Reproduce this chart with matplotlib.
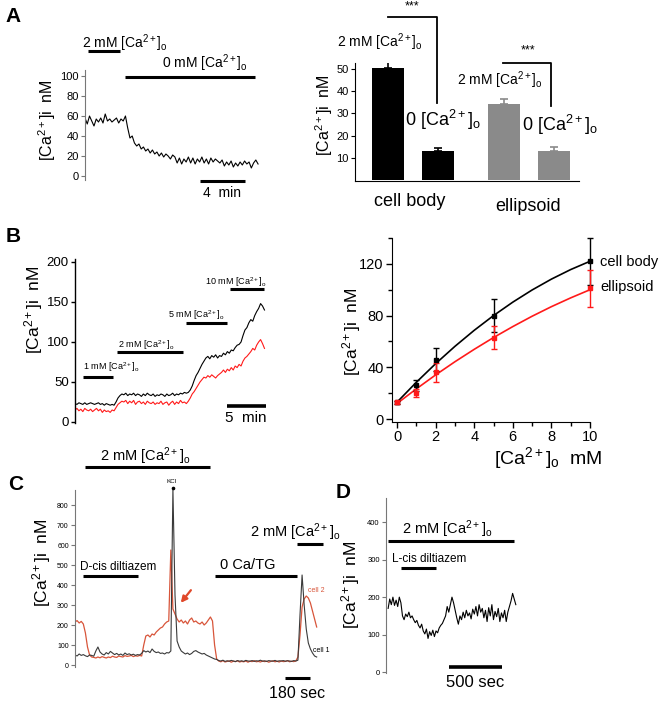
import numpy as np
import matplotlib
matplotlib.use("Agg")
import matplotlib.pyplot as plt
from matplotlib.ticker import MultipleLocator

W, H = 661, 701
plt.rcParams['font.family'] = ['Liberation Sans', 'DejaVu Sans']
plt.rcParams['mathtext.fontset'] = 'custom'
plt.rcParams['mathtext.rm'] = 'Liberation Sans'
plt.rcParams['mathtext.it'] = 'Liberation Sans:italic'
plt.rcParams['mathtext.bf'] = 'Liberation Sans:bold'

CA = r'[Ca$^{2+}$]$_\mathrm{o}$'
CAI = r'[Ca$^{2+}$]i  nM'

# ---- panel A, trace (min, nM), sampled every 0.2 min
a_step = 0.2
a_trace = [58, 52, 60, 55, 50, 57, 54, 58, 53, 62, 55, 57, 54, 56, 58, 53, 57, 55,
           60, 48, 38, 40, 33, 30, 32, 27, 29, 25,
           27, 23, 26, 22, 24, 20, 23, 19, 22, 20,
           17, 21, 19, 13, 18, 12, 17, 14, 19, 13,
           18, 12, 17, 14, 19, 13, 17, 12, 18, 14,
           17, 15, 13, 16, 10, 14, 11, 15, 9, 13,
           10, 14, 11, 15, 12, 14, 8, 13, 16, 12]

# ---- panel A, bars
a_groups = ['cell body', 'ellipsoid']
a_means = [50.5, 13, 34, 13]
a_errs = [2.5, 1.2, 2.5, 2.0]
a_colors = ['black', 'black', '#8a8a8a', '#8a8a8a']

# ---- panel B, traces (min, nM), every 0.25 min
b_step = 0.25
b_black = [23, 22, 24, 23, 22, 24, 22, 23, 24, 23, 22, 23, 24, 22, 23, 21, 23, 22, 21, 22, 21,
           25, 30, 33, 35,
           34, 36, 33, 35, 34, 36, 33, 35, 34, 32, 35, 33, 36, 34, 33, 35, 32, 34, 33, 35,
           34, 32, 35, 33, 34, 36, 33, 35, 34, 36, 35, 37, 36, 37,
           40, 45, 52, 58, 62, 67, 72, 76, 80, 82, 79, 83, 81, 84, 80, 83, 82, 86, 84, 88,
           86, 90, 89, 93, 96, 97, 100, 108, 115, 118, 124, 128, 126, 133, 138, 142, 148, 145, 140]
b_red = [15, 17, 14, 16, 13, 17, 15, 14, 16, 13, 15, 17, 14, 16, 12, 15, 13, 14, 12, 15, 14,
         18, 22, 24, 26,
         25, 27, 23, 26, 24, 27, 22, 25, 26, 23, 25, 22, 26, 24, 23, 25, 22, 24, 23, 26,
         22, 24, 25, 21, 24, 26, 22, 25, 23, 27, 24, 25, 23, 26,
         30, 35, 38, 42, 46, 50, 53, 56, 55, 58, 56, 59, 57, 55, 58, 60, 62, 65, 62, 66,
         64, 68, 65, 70, 68, 72, 70, 76, 80, 82, 85, 88, 92, 90, 96, 100, 103, 98, 92]

# ---- panel B, dose response
b_conc = [0, 1, 2, 5, 10]
b_cell = [13, 26, 46, 80, 122]
b_cell_err = [1, 4, 9, 13, 18]
b_ell = [13, 20, 36, 63, 101]
b_ell_err = [1, 3, 7, 9, 14]
fit_x = [0, 1, 2, 3, 4, 5, 6, 7, 8, 9, 10]
fit_cell = [13, 28.4, 42.8, 56.2, 68.6, 80, 90.4, 99.8, 108.2, 115.6, 122]
fit_ell = [12, 23.3, 34.1, 44.3, 53.9, 63, 71.5, 79.5, 86.9, 93.7, 100]

# ---- panel C, traces (s, nM), every 15 s
c_step = 15
c_cell1 = [50, 45, 55, 48, 52, 46, 42, 50, 48, 44, 70,
           90, 65, 55, 50, 62, 55, 68, 60, 52, 58, 50, 55, 48, 60, 52, 56, 50, 54, 48, 52, 50,
           58, 72, 65, 70, 62, 80, 68, 62, 65, 58, 60, 55, 62, 60, 70, 880, 350, 120, 90,
           70, 62, 55, 60, 52, 58, 68, 72, 65, 60, 55, 58, 50, 45, 40, 35, 30, 28,
           22, 20, 24, 18, 21, 19, 23, 20, 17, 22, 19, 21, 18, 23, 20, 19, 22, 18, 21, 20,
           24, 19, 21, 18, 22, 20, 19, 23, 18, 21, 20, 22, 19, 21, 20, 18, 22, 20,
           24, 250, 450, 300, 180, 110, 80, 60, 45, 40]
c_cell2 = [215, 222, 210, 218, 205, 160, 90, 50, 40,
           38, 35, 40, 36, 42, 38, 35, 40, 37, 44, 40, 38, 45, 42, 40, 47, 43, 45, 48, 42,
           46, 44, 48, 45,
           100, 145, 150, 140, 155, 150, 165, 175, 185, 190, 205, 215, 220, 575, 280, 255,
           230, 215, 225, 210, 220, 205, 225, 235, 215, 220, 210, 205, 215, 200, 210, 225,
           240, 220, 100, 30,
           20, 16, 22, 15, 18, 20, 14, 19, 17, 21, 15, 18, 16, 20, 14, 19, 17, 22, 16, 18,
           15, 20, 17, 19, 14, 18, 21, 16, 19, 15, 20, 17, 18, 22, 16, 19, 17, 20,
           40, 150, 290, 330, 345, 335, 310, 270, 230, 190]

# ---- panel D, trace (s, nM), every 15 s from 20 s
d_start, d_step = 20, 15
d_trace = [170, 195, 180, 200, 178, 192, 175, 200, 185, 150, 140, 155, 148, 160, 145, 150,
           140, 132, 138, 125, 118, 128, 110, 102, 115, 90, 108, 98, 112, 95, 110, 105,
           118, 125, 130, 140, 150, 175, 160, 180, 200, 185, 165, 145, 128, 150, 140, 160,
           145, 165, 150, 158, 142, 168, 155, 175, 150, 180, 160, 170, 145, 165, 135, 172,
           150, 180, 140, 162, 148, 170, 135, 158, 145, 165, 135, 160, 175, 190, 210, 195, 180]

fig = plt.figure(figsize=(W / 100, H / 100), dpi=100)


def box(l, t, r, b):
    return fig.add_axes([l / W, 1 - b / H, (r - l) / W, (b - t) / H])


def ftext(x, y, s, **kw):
    kw.setdefault('ha', 'center')
    kw.setdefault('va', 'center')
    fig.text(x / W, 1 - y / H, s, **kw)


def trace_axes(ax, color='#777777', size=5, lw=0.8):
    for s in ['top', 'right', 'bottom']:
        ax.spines[s].set_visible(False)
    ax.spines['left'].set_color(color)
    ax.spines['left'].set_linewidth(lw)
    ax.tick_params(axis='y', colors=color, labelcolor='black', labelsize=size,
                   length=3, width=lw, pad=1.5)
    ax.set_xticks([])
    ax.patch.set_alpha(0)


def hbar(ax, x0, x1, y, lw=2.2):
    ax.plot([x0, x1], [y, y], color='black', lw=lw, solid_capstyle='butt', clip_on=False)


# ================= A left
ax = box(85, 70, 262, 180)
t = np.arange(len(a_trace)) * a_step
ax.plot(t, a_trace, color='black', lw=0.8)
ax.set_xlim(0, 15.75)
ax.set_ylim(-4, 106)
ax.set_yticks([0, 20, 40, 60, 80, 100])
trace_axes(ax, size=8)
hbar(ax, 0.27, 3.1, 125)
ax.text(-0.27, 133, CA, fontsize=10, ha='left', va='center', clip_on=False)
hbar(ax, 3.56, 15.1, 99.5)
ax.text(10.7, 113, '0 mM ' + CA, fontsize=10, ha='center', va='center')
hbar(ax, 10.2, 14.25, -5)
ax.text(12.2, -17, '4  min', fontsize=10, ha='center', va='center')
ax.texts[0].set_text('2 mM ' + CA)
ftext(47, 120, CAI, fontsize=11.5, rotation=90)
ftext(13, 16, 'A', fontsize=15, weight='bold')

# ================= A right
ax = box(355, 63, 579, 181)
xb = [0, 1, 2.31, 3.31]
ax.bar(xb, a_means, width=0.64, color=a_colors)
ax.errorbar(xb[:2], a_means[:2], yerr=[[0, 0], a_errs[:2]], fmt='none',
            ecolor='black', capsize=3, elinewidth=1.2, capthick=1.2)
ax.errorbar(xb[2:], a_means[2:], yerr=[[0, 0], a_errs[2:]], fmt='none',
            ecolor='#8a8a8a', capsize=3, elinewidth=1.2, capthick=1.2)
ax.set_xlim(-0.66, 3.82)
ax.set_ylim(-0.5, 52.7)
ax.set_yticks([10, 20, 30, 40, 50])
ax.set_xticks([])
for s in ['top', 'right']:
    ax.spines[s].set_visible(False)
ax.tick_params(axis='y', labelsize=8, length=3, pad=1.5)
ax.patch.set_alpha(0)
ax.plot([0, 0.98, 0.98], [73.4, 73.4, 34.7], color='black', lw=1.3, clip_on=False)
ax.text(0.48, 78, '***', fontsize=9, ha='center', va='center')
ax.text(-0.16, 62, '2 mM ' + CA, fontsize=10, ha='center', va='center')
ax.text(1.1, 27, '0 ' + CA, fontsize=13, ha='center', va='center')
ax.plot([2.3, 3.26, 3.26], [52.7, 52.7, 33.3], color='black', lw=1.3, clip_on=False)
ax.text(2.8, 58.5, '***', fontsize=9, ha='center', va='center')
ax.text(2.24, 45, '2 mM ' + CA, fontsize=10, ha='center', va='center')
ax.text(3.44, 24.8, '0 ' + CA, fontsize=13, ha='center', va='center', clip_on=False)
ax.text(0.44, -9.9, a_groups[0], fontsize=13, ha='center', va='center')
ax.text(2.8, -12.2, a_groups[1], fontsize=13, ha='center', va='center')
ftext(324, 115, CAI, fontsize=11.5, rotation=90)

# ================= B left
ax = box(75, 259, 268, 423)
t = np.arange(len(b_black)) * b_step
ax.plot(t, b_red, color='#ff1a1a', lw=0.8)
ax.plot(t, b_black, color='black', lw=0.8)
ax.set_xlim(0, 24.7)
ax.set_ylim(-1.25, 203.75)
ax.set_yticks([0, 50, 100, 150, 200])
trace_axes(ax, color='black', size=9.5, lw=1)
hbar(ax, 1.03, 4.87, 56)
ax.text(1.03, 69, '1 mM ' + CA, fontsize=6.5, ha='left', va='center')
hbar(ax, 5.4, 13.85, 87.5)
ax.text(5.5, 96, '2 mM ' + CA, fontsize=6.5, ha='left', va='center')
hbar(ax, 14.2, 19.5, 124)
ax.text(11.9, 134, '5 mM ' + CA, fontsize=6.5, ha='left', va='center')
hbar(ax, 19.9, 24.2, 166)
ax.text(16.7, 175, '10 mM ' + CA, fontsize=6.5, ha='left', va='center')
hbar(ax, 19.4, 24.4, 20, lw=2.6)
ax.text(21.8, 5, '5  min', fontsize=11, ha='center', va='center')
ftext(34, 310, CAI, fontsize=12.5, rotation=90)
ftext(13, 237, 'B', fontsize=15, weight='bold')

# ================= B right
ax = box(392, 238, 590, 422)
ax.plot(fit_x, fit_cell, color='black', lw=1.2)
ax.plot(fit_x, fit_ell, color='#ff1a1a', lw=1.2)
ax.errorbar(b_conc, b_cell, yerr=b_cell_err, fmt='s', color='black', ms=3.5,
            capsize=2.5, elinewidth=1, clip_on=False)
ax.errorbar(b_conc, b_ell, yerr=b_ell_err, fmt='s', color='#ff1a1a', ms=3.5,
            capsize=2.5, elinewidth=1, clip_on=False)
ax.set_xlim(-0.26, 10)
ax.set_ylim(-2.3, 140)
ax.set_xticks([0, 2, 4, 6, 8, 10])
ax.set_yticks([0, 40, 80, 120])
ax.xaxis.set_minor_locator(MultipleLocator(1))
ax.yaxis.set_minor_locator(MultipleLocator(20))
ax.tick_params(which='both', labelsize=10.5, length=4, width=1, pad=2)
ax.tick_params(which='minor', length=3)
for s in ['top', 'right']:
    ax.spines[s].set_visible(False)
ax.patch.set_alpha(0)
ax.text(10.52, 121.7, 'cell body', fontsize=10.5, ha='left', va='center', clip_on=False)
ax.text(10.52, 102.3, 'ellipsoid', fontsize=10.5, ha='left', va='center', clip_on=False)
ftext(548, 458, CA + '  mM', fontsize=14)
ftext(352, 332, CAI, fontsize=12.5, rotation=90)

# ================= C
ax = box(75, 490, 325, 667)
t = np.arange(len(c_cell1)) * c_step
ax.plot(t, c_cell2, color='#d8553a', lw=0.9)
ax.plot(t, c_cell1, color='#3a3a3a', lw=0.8)
ax.set_xlim(0, 1800)
ax.set_ylim(-10, 875)
ax.set_yticks(range(0, 900, 100))
trace_axes(ax, size=5)
hbar(ax, 72, 972, 990)
ax.text(504, 1045, '2 mM ' + CA, fontsize=10.5, ha='center', va='center')
ax.text(698, 918, 'KCl', fontsize=4.5, ha='center', va='center')
ax.plot([703], [885], 'o', color='black', ms=1.6, clip_on=False)
hbar(ax, 58, 454, 445)
ax.text(36, 490, 'D-cis diltiazem', fontsize=8.5, ha='left', va='center')
hbar(ax, 1008, 1598, 445)
ax.text(1044, 500, '0 Ca/TG', fontsize=10.5, ha='left', va='center')
hbar(ax, 1598, 1786, 605)
ax.text(1260, 665, '2 mM ' + CA, fontsize=10.5, ha='left', va='center', clip_on=False)
ax.text(1678, 370, 'cell 2', fontsize=5, color='#d8553a', ha='left', va='center', clip_on=False)
ax.text(1714, 75, 'cell 1', fontsize=5, ha='left', va='center', clip_on=False)
ax.annotate('', xy=(749, 300), xytext=(847, 385), annotation_clip=False,
            arrowprops=dict(arrowstyle='-|>', color='#e0482a', lw=1.6, mutation_scale=9))
hbar(ax, 1512, 1692, -65)
ax.text(1598, -140, '180 sec', fontsize=11.5, ha='center', va='center', clip_on=False)
ftext(42, 563, CAI, fontsize=12.5, rotation=90)
ftext(16, 485, 'C', fontsize=15, weight='bold')

# ================= D
ax = box(386, 498, 519, 673)
t = d_start + np.arange(len(d_trace)) * d_step
ax.plot(t, d_trace, color='black', lw=0.8)
ax.set_xlim(0, 1250)
ax.set_ylim(-2, 464)
ax.set_yticks([0, 100, 200, 300, 400])
trace_axes(ax, size=5.5)
hbar(ax, 19, 1207, 349)
ax.text(575, 381, '2 mM ' + CA, fontsize=10.5, ha='center', va='center')
hbar(ax, 141, 471, 277)
ax.text(57, 301, 'L-cis diltiazem', fontsize=8.5, ha='left', va='center')
hbar(ax, 594, 1094, 13, lw=2.6)
ax.text(839, -27, '500 sec', fontsize=12, ha='center', va='center', clip_on=False)
ftext(351, 585, CAI, fontsize=12.5, rotation=90)
ftext(343, 492, 'D', fontsize=15, weight='bold')

fig.savefig('out.png', dpi=100)
